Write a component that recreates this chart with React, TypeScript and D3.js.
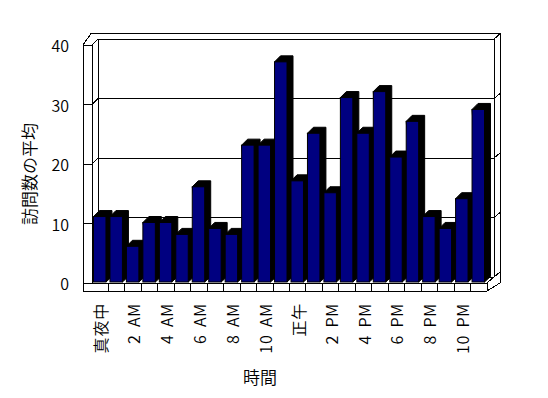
import React from "react";
import { scaleBand, scaleLinear } from "d3";

// 時間帯ごとの訪問数の平均
const hours = [
  "真夜中", "1 AM", "2 AM", "3 AM", "4 AM", "5 AM", "6 AM", "7 AM", "8 AM", "9 AM", "10 AM", "11 AM",
  "正午", "1 PM", "2 PM", "3 PM", "4 PM", "5 PM", "6 PM", "7 PM", "8 PM", "9 PM", "10 PM", "11 PM",
];
const visits = [11, 11, 6, 10, 10, 8, 16, 9, 8, 23, 23, 37, 17, 25, 15, 31, 25, 32, 21, 27, 11, 9, 14, 29];
const yTicks = [0, 10, 20, 30, 40];
const xTitle = "時間";
const yTitle = "訪問数の平均";

const W = 548, H = 398;
// depth offset of the 3D box (front plane -> back wall)
const DX = 6, DY = -6;
const font = "'Noto Sans CJK JP', 'Liberation Sans', sans-serif";
const fw = 350;

export default function App() {
  const x = scaleBand<string>().domain(hours).range([92, 487]).padding(0);
  const yFront = scaleLinear().domain([0, 40]).range([283, 45]);
  const yBar = scaleLinear().domain([0, 40]).range([282, 44]);
  const wallL = 83, floorB = 291;
  const backL = 92 + DX, backR = 487 + DX + 1;
  const outerTop = 33.5, outerR = 500;
  const bw = x.bandwidth();

  const ln = (x1: number, y1: number, x2: number, y2: number, k: string) => (
    <line key={k} x1={x1} y1={y1} x2={x2} y2={y2} stroke="#000" strokeWidth={1} />
  );

  return (
    <svg width={W} height={H} style={{ position: "absolute", left: 0, top: 0, background: "#fff" }}>
      <g shapeRendering="crispEdges">
        {/* outer box */}
        <path
          d={`M${wallL},${yFront(40)} L${wallL + 8},${outerTop} L${outerR},${outerTop} L${outerR},${yFront(0)} L487,${floorB} L${wallL},${floorB} Z`}
          fill="#fff" stroke="#000" />
        {/* left wall front strip */}
        {ln(wallL, yFront(40), 92, yFront(40), "wt")}
        {ln(92, yFront(40), 92, yFront(0), "wr")}
        {ln(92, yFront(40), backL, yFront(40) + DY, "wd")}
        {/* back wall */}
        {ln(backL, yFront(40) + DY, backR, yFront(40) + DY, "bt")}
        {ln(backL, yFront(40) + DY, backL, yFront(0) + DY, "bl")}
        {ln(backR, yFront(40) + DY, outerR, outerTop, "bc")}
        {ln(backR, yFront(40) + DY, backR, yFront(0) + DY, "br")}
        {/* gridlines + ticks */}
        {yTicks.map((t) => (
          <g key={t}>
            {ln(wallL, yFront(t), 92, yFront(t), "a")}
            {ln(92, yFront(t), backL, yFront(t) + DY, "b")}
            {ln(backL, yFront(t) + DY, backR, yFront(t) + DY, "c")}
            {ln(backR, yFront(t) + DY, outerR, yFront(t) + DY - 5, "d")}
          </g>
        ))}
        {/* floor front strip */}
        {ln(wallL, yFront(0), 487, yFront(0), "ft")}
        {ln(487, yFront(0), 487, floorB, "fr")}
        {ln(487, yFront(0), backR, yFront(0) + DY, "fd")}
        {hours.slice(1).map((h) => ln(x(h)!, yFront(0), x(h)!, floorB, "fv" + h))}
      </g>

      {/* bars */}
      {visits.map((v, i) => {
        const x0 = x(hours[i])! + 1.5;
        const x1 = x0 + bw - 4;
        const yt = yBar(v);
        const yb = yBar(0);
        return (
          <g key={i}>
            <path d={`M${x1},${yb} L${x1 + DX},${yb - 5.5} L${x1 + DX},${yt - 6} L${x0 + DX},${yt - 6} L${x0},${yt} Z`}
              fill="#000" stroke="#000" />
            <rect x={x0} y={yt} width={x1 - x0} height={yb - yt} fill="#000080" stroke="#000" strokeWidth={1} />
          </g>
        );
      })}

      {/* y tick labels */}
      {yTicks.map((t) => (
        <text key={t} x={69} y={yFront(t)} textAnchor="end" dominantBaseline="central"
          fontFamily={font} fontWeight={fw} fontSize={16}>{t}</text>
      ))}

      {/* x tick labels, every other hour */}
      {hours.map((h, i) => i % 2 === 0 && (
        <text key={h} transform={`translate(${x(h)! + bw / 2},303) rotate(-90)`} textAnchor="end"
          dominantBaseline="central" fontFamily={font} fontWeight={fw} fontSize={16}
          letterSpacing={0.8} wordSpacing={3}>{h}</text>
      ))}

      <text x={260} y={376} textAnchor="middle" dominantBaseline="central" fontFamily={font} fontWeight={fw} fontSize={17}>{xTitle}</text>
      <text transform="translate(28,174) rotate(-90)" textAnchor="middle" dominantBaseline="central"
        fontFamily={font} fontWeight={fw} fontSize={17}>{yTitle}</text>
    </svg>
  );
}
